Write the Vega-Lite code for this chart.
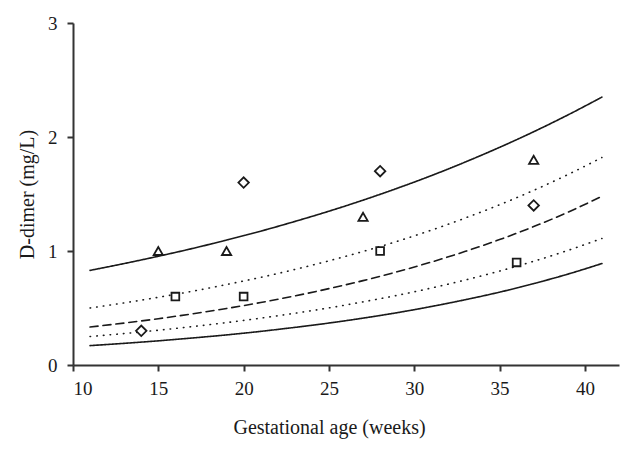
{
  "$schema": "https://vega.github.io/schema/vega-lite/v6.json",
  "width": 546,
  "height": 342,
  "autosize": {"type": "none"},
  "padding": {"left": 73, "top": 23, "right": 13, "bottom": 86},
  "background": "white",
  "config": {
    "view": {"stroke": null},
    "font": "Liberation Serif",
    "axis": {
      "grid": false,
      "domainColor": "#333333",
      "domainWidth": 2,
      "tickColor": "#333333",
      "tickWidth": 2,
      "tickSize": 6,
      "labelFont": "Liberation Serif",
      "labelFontSize": 19,
      "labelColor": "#1a1a1a",
      "titleFont": "Liberation Serif",
      "titleFontSize": 20,
      "titleFontWeight": "normal",
      "titleColor": "#1a1a1a"
    }
  },
  "datasets": {
    "curves": [
      {"wk": 11, "curve": "upper limit", "v": 0.830}, {"wk": 13, "curve": "upper limit", "v": 0.890}, {"wk": 15, "curve": "upper limit", "v": 0.954}, {"wk": 17, "curve": "upper limit", "v": 1.022},
      {"wk": 19, "curve": "upper limit", "v": 1.096}, {"wk": 21, "curve": "upper limit", "v": 1.174}, {"wk": 23, "curve": "upper limit", "v": 1.259}, {"wk": 25, "curve": "upper limit", "v": 1.349},
      {"wk": 27, "curve": "upper limit", "v": 1.446}, {"wk": 29, "curve": "upper limit", "v": 1.550}, {"wk": 31, "curve": "upper limit", "v": 1.661}, {"wk": 33, "curve": "upper limit", "v": 1.781},
      {"wk": 35, "curve": "upper limit", "v": 1.909}, {"wk": 37, "curve": "upper limit", "v": 2.046}, {"wk": 39, "curve": "upper limit", "v": 2.193}, {"wk": 41, "curve": "upper limit", "v": 2.350},

      {"wk": 11, "curve": "upper", "v": 0.500}, {"wk": 13, "curve": "upper", "v": 0.545}, {"wk": 15, "curve": "upper", "v": 0.594}, {"wk": 17, "curve": "upper", "v": 0.647},
      {"wk": 19, "curve": "upper", "v": 0.706}, {"wk": 21, "curve": "upper", "v": 0.769}, {"wk": 23, "curve": "upper", "v": 0.838}, {"wk": 25, "curve": "upper", "v": 0.914},
      {"wk": 27, "curve": "upper", "v": 0.996}, {"wk": 29, "curve": "upper", "v": 1.085}, {"wk": 31, "curve": "upper", "v": 1.183}, {"wk": 33, "curve": "upper", "v": 1.290},
      {"wk": 35, "curve": "upper", "v": 1.406}, {"wk": 37, "curve": "upper", "v": 1.532}, {"wk": 39, "curve": "upper", "v": 1.670}, {"wk": 41, "curve": "upper", "v": 1.820},

      {"wk": 11, "curve": "median", "v": 0.333}, {"wk": 13, "curve": "median", "v": 0.368}, {"wk": 15, "curve": "median", "v": 0.406}, {"wk": 17, "curve": "median", "v": 0.449},
      {"wk": 19, "curve": "median", "v": 0.496}, {"wk": 21, "curve": "median", "v": 0.548}, {"wk": 23, "curve": "median", "v": 0.606}, {"wk": 25, "curve": "median", "v": 0.670},
      {"wk": 27, "curve": "median", "v": 0.740}, {"wk": 29, "curve": "median", "v": 0.818}, {"wk": 31, "curve": "median", "v": 0.903}, {"wk": 33, "curve": "median", "v": 0.997},
      {"wk": 35, "curve": "median", "v": 1.100}, {"wk": 37, "curve": "median", "v": 1.214}, {"wk": 39, "curve": "median", "v": 1.340}, {"wk": 41, "curve": "median", "v": 1.480},

      {"wk": 11, "curve": "lower", "v": 0.250}, {"wk": 13, "curve": "lower", "v": 0.276}, {"wk": 15, "curve": "lower", "v": 0.305}, {"wk": 17, "curve": "lower", "v": 0.337},
      {"wk": 19, "curve": "lower", "v": 0.372}, {"wk": 21, "curve": "lower", "v": 0.411}, {"wk": 23, "curve": "lower", "v": 0.454}, {"wk": 25, "curve": "lower", "v": 0.501},
      {"wk": 27, "curve": "lower", "v": 0.554}, {"wk": 29, "curve": "lower", "v": 0.611}, {"wk": 31, "curve": "lower", "v": 0.675}, {"wk": 33, "curve": "lower", "v": 0.746},
      {"wk": 35, "curve": "lower", "v": 0.824}, {"wk": 37, "curve": "lower", "v": 0.910}, {"wk": 39, "curve": "lower", "v": 1.005}, {"wk": 41, "curve": "lower", "v": 1.110},

      {"wk": 11, "curve": "lower limit", "v": 0.170}, {"wk": 13, "curve": "lower limit", "v": 0.190}, {"wk": 15, "curve": "lower limit", "v": 0.212}, {"wk": 17, "curve": "lower limit", "v": 0.237},
      {"wk": 19, "curve": "lower limit", "v": 0.264}, {"wk": 21, "curve": "lower limit", "v": 0.295}, {"wk": 23, "curve": "lower limit", "v": 0.330}, {"wk": 25, "curve": "lower limit", "v": 0.368},
      {"wk": 27, "curve": "lower limit", "v": 0.411}, {"wk": 29, "curve": "lower limit", "v": 0.459}, {"wk": 31, "curve": "lower limit", "v": 0.513}, {"wk": 33, "curve": "lower limit", "v": 0.573},
      {"wk": 35, "curve": "lower limit", "v": 0.639}, {"wk": 37, "curve": "lower limit", "v": 0.714}, {"wk": 39, "curve": "lower limit", "v": 0.797}, {"wk": 41, "curve": "lower limit", "v": 0.890}
    ],
    "patients": [
      {"wk": 14, "patient": "Patient 1", "v": 0.3},
      {"wk": 20, "patient": "Patient 1", "v": 1.6},
      {"wk": 28, "patient": "Patient 1", "v": 1.7},
      {"wk": 37, "patient": "Patient 1", "v": 1.4},
      {"wk": 15, "patient": "Patient 2", "v": 1.0},
      {"wk": 19, "patient": "Patient 2", "v": 1.0},
      {"wk": 27, "patient": "Patient 2", "v": 1.3},
      {"wk": 37, "patient": "Patient 2", "v": 1.8},
      {"wk": 16, "patient": "Patient 3", "v": 0.6},
      {"wk": 20, "patient": "Patient 3", "v": 0.6},
      {"wk": 28, "patient": "Patient 3", "v": 1.0},
      {"wk": 36, "patient": "Patient 3", "v": 0.9}
    ]
  },
  "encoding": {
    "x": {
      "field": "wk", "type": "quantitative",
      "scale": {"domain": [10, 42], "nice": false, "zero": false},
      "axis": {
        "title": "Gestational age (weeks)",
        "values": [10, 15, 20, 25, 30, 35, 40],
        "labelPadding": 8,
        "titleX": 256,
        "titleY": 68,
        "titleAnchor": null,
        "titleAlign": "center",
        "titleBaseline": "alphabetic"
      }
    },
    "y": {
      "field": "v", "type": "quantitative",
      "scale": {"domain": [0, 3], "nice": false},
      "axis": {
        "title": "D-dimer (mg/L)",
        "values": [0, 1, 2, 3],
        "labelPadding": 10,
        "titleX": -46,
        "titleY": 171,
        "titleAngle": -90,
        "titleAlign": "center",
        "titleBaseline": "middle"
      }
    }
  },
  "layer": [
    {
      "data": {"name": "curves"},
      "mark": {"type": "line", "color": "#1a1a1a", "strokeWidth": 1.6, "interpolate": "monotone", "strokeCap": "round"},
      "encoding": {
        "detail": {"field": "curve"},
        "strokeDash": {
          "field": "curve", "type": "nominal", "legend": null,
          "scale": {
            "domain": ["upper limit", "upper", "median", "lower", "lower limit"],
            "range": [[1, 0], [0.5, 6.2], [8, 5], [0.5, 6.2], [1, 0]]
          }
        },
        "strokeWidth": {
          "field": "curve", "type": "nominal", "legend": null,
          "scale": {
            "domain": ["upper limit", "upper", "median", "lower", "lower limit"],
            "range": [1.6, 2, 1.6, 2, 1.6]
          }
        }
      }
    },
    {
      "data": {"name": "patients"},
      "mark": {"type": "point", "filled": false, "color": "#1a1a1a", "fill": "white", "fillOpacity": 1, "strokeWidth": 1.8, "opacity": 1},
      "encoding": {
        "shape": {
          "field": "patient", "type": "nominal", "legend": null,
          "scale": {"domain": ["Patient 1", "Patient 2", "Patient 3"], "range": ["diamond", "triangle-up", "square"]}
        },
        "size": {
          "field": "patient", "type": "nominal", "legend": null,
          "scale": {"domain": ["Patient 1", "Patient 2", "Patient 3"], "range": [110, 60, 64]}
        }
      }
    }
  ]
}
